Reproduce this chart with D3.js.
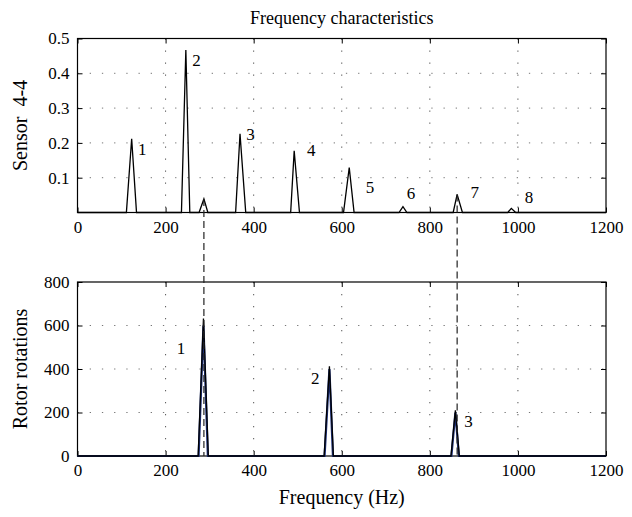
<!DOCTYPE html>
<html><head><meta charset="utf-8">
<script src="https://cdn.jsdelivr.net/npm/d3@7"></script>
<style>
body{margin:0;background:#fff;}
svg text{font-family:"Liberation Serif","Times New Roman",serif;fill:#000;}
</style></head><body>
<svg id="c" width="632" height="517"></svg>
<script>
// ---- data ----
const xTicks = [0, 200, 400, 600, 800, 1000, 1200];
const sensorYTicks = [0.1, 0.2, 0.3, 0.4, 0.5];
const rotorYTicks = [0, 200, 400, 600, 800];

// Sensor 4-4 spectrum (frequency Hz, amplitude)
const sensorFreq = [0, 111, 123, 134, 236, 246, 255, 276, 287, 296, 359, 369, 382, 484, 492, 504, 604, 617, 628, 730, 739, 748, 853, 862, 874, 977, 985, 995, 1200];
const sensorAmp  = [0, 0, 0.212, 0, 0, 0.467, 0, 0, 0.039, 0, 0, 0.226, 0, 0, 0.177, 0, 0, 0.129, 0, 0, 0.017, 0, 0, 0.052, 0, 0, 0.012, 0, 0];
const sensorLabels = ["1", "2", "3", "4", "5", "6", "7", "8"];
const sensorLabelFreq = [147, 270, 393, 531, 664, 757, 902, 1025];
const sensorLabelAmp  = [0.164, 0.42, 0.208, 0.161, 0.056, 0.039, 0.043, 0.026];

// Rotor rotations spectrum: black and blue traces
const rotorFreq  = [0, 274, 286, 297, 560, 572, 581, 848, 858, 867, 1200];
const rotorBlack = [0, 0, 632, 0, 0, 412, 0, 0, 210, 0, 0];
const rotorBlueFreq = [0, 275, 286, 296, 561, 572, 580, 849, 858, 866, 1200];
const rotorBlue  = [0, 0, 600, 0, 0, 400, 0, 0, 200, 0, 0];
const rotorLabels = ["1", "2", "3"];
const rotorLabelFreq = [235, 540, 888];
const rotorLabelVal  = [470, 330, 133];

// dashed links between harmonics
const linkFreq = [287, 862];
const linkSensorAmp = [0.039, 0.052];

// ---- layout ----
const svg = d3.select("#c");
const L = 77.5, R = 606;
const top1 = 38.5, bot1 = 212.5, top2 = 282, bot2 = 456;
const x = d3.scaleLinear().domain([0, 1200]).range([L, R]);
const y1 = d3.scaleLinear().domain([0, 0.5]).range([bot1, top1]);
const y2 = d3.scaleLinear().domain([0, 800]).range([bot2, top2]);
const FS = 17, FT = 17, FH = 18, FL = 20;

function panel(y, yTicks, yFmt, top, bot) {
  const g = svg.append("g");
  xTicks.filter(t => t > 0 && t < 1200).forEach(t => {
    g.append("line").attr("x1", x(t)).attr("x2", x(t)).attr("y1", top).attr("y2", bot)
      .attr("stroke", "#555").attr("stroke-width", 1).attr("stroke-dasharray", "1.3,10.7");
  });
  yTicks.filter(t => y(t) > top + 1 && y(t) < bot - 1).forEach(t => {
    g.append("line").attr("x1", L).attr("x2", R).attr("y1", y(t)).attr("y2", y(t))
      .attr("stroke", "#777").attr("stroke-width", 1).attr("stroke-dasharray", "1.3,10.9");
  });
  g.append("g").attr("transform", `translate(0,${bot})`)
    .call(d3.axisBottom(x).tickValues(xTicks).tickFormat(d3.format("d")).tickSizeInner(-5).tickSizeOuter(0).tickPadding(8))
    .call(a => a.select(".domain").remove())
    .call(a => a.selectAll("text").attr("font-size", FT).attr("font-family", "Liberation Serif"));
  g.append("g").attr("transform", `translate(0,${top})`)
    .call(d3.axisTop(x).tickValues(xTicks).tickSizeInner(-5).tickSizeOuter(0).tickFormat(""))
    .call(a => a.select(".domain").remove());
  g.append("g").attr("transform", `translate(${L},0)`)
    .call(d3.axisLeft(y).tickValues(yTicks).tickFormat(yFmt).tickSizeInner(-5).tickSizeOuter(0).tickPadding(8))
    .call(a => a.select(".domain").remove())
    .call(a => a.selectAll("text").attr("font-size", FT).attr("font-family", "Liberation Serif"));
  g.append("g").attr("transform", `translate(${R},0)`)
    .call(d3.axisRight(y).tickValues(yTicks).tickSizeInner(-5).tickSizeOuter(0).tickFormat(""))
    .call(a => a.select(".domain").remove());
  g.selectAll(".tick line").attr("stroke", "#000");
  g.append("rect").attr("x", L).attr("y", top).attr("width", R - L).attr("height", bot - top)
    .attr("fill", "none").attr("stroke", "#000").attr("stroke-width", 1.2);
  return g;
}

panel(y1, sensorYTicks, d3.format(".1f"), top1, bot1);
panel(y2, rotorYTicks, d3.format("d"), top2, bot2);

const line1 = d3.line().x(d => x(d[0])).y(d => y1(d[1]));
svg.append("path").datum(sensorFreq.map((f, i) => [f, sensorAmp[i]]))
  .attr("d", line1).attr("fill", "none").attr("stroke", "#000").attr("stroke-width", 1.3)
  .attr("stroke-linejoin", "miter");

const line2 = d3.line().x(d => x(d[0])).y(d => y2(d[1]));
svg.append("path").datum(rotorBlueFreq.map((f, i) => [f, rotorBlue[i]]))
  .attr("d", line2).attr("fill", "none").attr("stroke", "#1c2f7a").attr("stroke-width", 2.2);
svg.append("path").datum(rotorFreq.map((f, i) => [f, rotorBlack[i]]))
  .attr("d", line2).attr("fill", "none").attr("stroke", "#000").attr("stroke-width", 1.3);

linkFreq.forEach((f, i) => {
  svg.append("line").attr("x1", x(f)).attr("x2", x(f))
    .attr("y1", y1(linkSensorAmp[i])).attr("y2", y2(0))
    .attr("stroke", "#222").attr("stroke-width", 1.2).attr("stroke-dasharray", "7,4");
});

sensorLabels.forEach((t, i) => {
  svg.append("text").attr("x", x(sensorLabelFreq[i])).attr("y", y1(sensorLabelAmp[i]))
    .attr("text-anchor", "middle").attr("font-size", FS).text(t);
});
rotorLabels.forEach((t, i) => {
  svg.append("text").attr("x", x(rotorLabelFreq[i])).attr("y", y2(rotorLabelVal[i]))
    .attr("text-anchor", "middle").attr("font-size", FS).text(t);
});

svg.append("text").attr("x", (L + R) / 2).attr("y", 24).attr("text-anchor", "middle")
  .attr("font-size", FH).text("Frequency characteristics");
svg.append("text").attr("x", (L + R) / 2).attr("y", 504).attr("text-anchor", "middle")
  .attr("font-size", FL).text("Frequency (Hz)");
svg.append("text").attr("transform", `translate(27,${(top1 + bot1) / 2}) rotate(-90)`)
  .attr("text-anchor", "middle").attr("font-size", FL).attr("xml:space", "preserve")
  .text("Sensor  4-4");
svg.append("text").attr("transform", `translate(27,${(top2 + bot2) / 2}) rotate(-90)`)
  .attr("text-anchor", "middle").attr("font-size", FL).text("Rotor rotations");
</script></body></html>
